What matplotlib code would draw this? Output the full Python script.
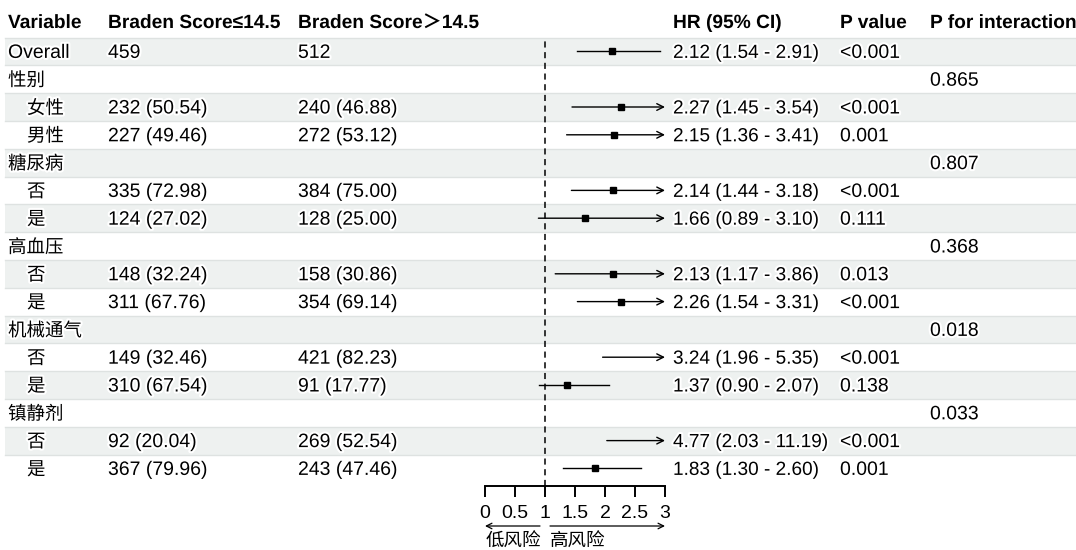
import matplotlib
matplotlib.use("Agg")
import matplotlib.pyplot as plt
import matplotlib.patheffects as pe
import numpy as np

# ---------------- data ----------------
headers = ["Variable", "Braden Score≤14.5", "Braden Score＞14.5", "HR (95% CI)", "P value", "P for interaction"]
labels = ["Overall", "性别", "女性", "男性", "糖尿病", "否", "是", "高血压", "否", "是",
          "机械通气", "否", "是", "镇静剂", "否", "是"]
indent = [False, False, True, True, False, True, True, False, True, True,
          False, True, True, False, True, True]
group_low = ["459", "", "232 (50.54)", "227 (49.46)", "", "335 (72.98)", "124 (27.02)", "",
             "148 (32.24)", "311 (67.76)", "", "149 (32.46)", "310 (67.54)", "", "92 (20.04)", "367 (79.96)"]
group_high = ["512", "", "240 (46.88)", "272 (53.12)", "", "384 (75.00)", "128 (25.00)", "",
              "158 (30.86)", "354 (69.14)", "", "421 (82.23)", "91 (17.77)", "", "269 (52.54)", "243 (47.46)"]
hr = [2.12, None, 2.27, 2.15, None, 2.14, 1.66, None, 2.13, 2.26, None, 3.24, 1.37, None, 4.77, 1.83]
lo = [1.54, None, 1.45, 1.36, None, 1.44, 0.89, None, 1.17, 1.54, None, 1.96, 0.90, None, 2.03, 1.30]
hi = [2.91, None, 3.54, 3.41, None, 3.18, 3.10, None, 3.86, 3.31, None, 5.35, 2.07, None, 11.19, 2.60]
pval = ["<0.001", "", "<0.001", "0.001", "", "<0.001", "0.111", "", "0.013", "<0.001", "",
        "<0.001", "0.138", "", "<0.001", "0.001"]
pint = ["", "0.865", "", "", "0.807", "", "", "0.368", "", "", "0.018", "", "", "0.033", "", ""]
xticks = [0, 0.5, 1, 1.5, 2, 2.5, 3]
xticklabels = ["0", "0.5", "1", "1.5", "2", "2.5", "3"]

# ---------------- layout ----------------
W, H = 1076, 550
fig = plt.figure(figsize=(W / 100, H / 100), dpi=100)
fam = ["Liberation Sans", "Noto Sans CJK SC", "DejaVu Sans"]
FS = 14.0
FS_CJK = 13.3
halo = [pe.withStroke(linewidth=3, foreground="white")]

tab = fig.add_axes([0, 0, 1, 1])
tab.set_xlim(0, W)
tab.set_ylim(H, 0)
tab.axis("off")

n = len(labels)
top = 37.5
rh = 27.8
col_x = [8, 108, 298, 673, 840, 930]
dy = 2.0  # visual centring of text inside its row

def row_y(i):
    return top + (i + 0.5) * rh

for i in range(n):
    if i % 2 == 0:
        tab.add_patch(plt.Rectangle((5, top + i * rh), W - 5, rh, facecolor="#EEF1F0",
                                    edgecolor="none", zorder=0))
        for yy in (top + i * rh, top + (i + 1) * rh):
            tab.plot([5, W], [yy, yy], color="#DEE2E1", lw=1.0, zorder=0.5)

def txt(x, y, s, bold=False, size=FS):
    tab.text(x, y, s, ha="left", va="center", fontsize=size, family=fam,
             fontweight="bold" if bold else "normal", path_effects=halo, zorder=3)

for x, h in zip(col_x, headers):
    txt(x, 22 + dy - 0.5, h, bold=True, size=FS - 0.2)

for i in range(n):
    y = row_y(i) + dy
    if i == 0:
        txt(col_x[0], y, labels[i])
    else:
        txt(col_x[0] + (19 if indent[i] else 0), y, labels[i], size=FS_CJK)
    txt(col_x[1], y, group_low[i])
    txt(col_x[2], y, group_high[i])
    if hr[i] is not None:
        txt(col_x[3], y, f"{hr[i]:.2f} ({lo[i]:.2f} - {hi[i]:.2f})", size=FS - 0.3)
    txt(col_x[4], y, pval[i])
    txt(col_x[5], y, pint[i])

# forest axes
x0, x1 = 485, 665
axis_y = 486
ax = fig.add_axes([x0 / W, 1 - axis_y / H, (x1 - x0) / W, (axis_y - top) / H])
ax.patch.set_alpha(0)
xmin, xmax = 0, 3
ax.set_xlim(xmin, xmax)
ax.set_ylim(n - 0.5 + (axis_y - top - n * rh) / rh, -0.5)
for s in ["top", "right", "left"]:
    ax.spines[s].set_visible(False)
ax.spines["bottom"].set_linewidth(1.4)
ax.set_yticks([])
ax.set_xticks(xticks)
ax.set_xticklabels(xticklabels, fontsize=FS, family=fam)
ax.tick_params(axis="x", length=8, width=1.4, pad=6, direction="out")
ax.axvline(1, color="black", lw=1.1, ls=(0, (4, 3)), zorder=1)

for i in range(n):
    if hr[i] is None:
        continue
    l = max(lo[i], xmin)
    r = min(hi[i], xmax)
    if hi[i] > xmax:
        ax.annotate("", xy=(xmax, i), xytext=(l, i),
                    arrowprops=dict(arrowstyle="->", lw=1.0, color="black",
                                    shrinkA=0, shrinkB=0, mutation_scale=12))
    else:
        ax.plot([l, r], [i, i], color="black", lw=1.0)
    if xmin <= hr[i] <= xmax:
        ax.plot(hr[i], i, marker="s", color="black", ms=4.6, zorder=3)

# risk arrows below axis
ay = 526
tab.annotate("", xy=(485, ay), xytext=(540, ay),
             arrowprops=dict(arrowstyle="->", lw=0.9, color="black", shrinkA=0, shrinkB=0, mutation_scale=10))
tab.annotate("", xy=(665, ay), xytext=(550, ay),
             arrowprops=dict(arrowstyle="->", lw=0.9, color="black", shrinkA=0, shrinkB=0, mutation_scale=10))
tab.text(513, 542, "低风险", ha="center", va="center", fontsize=FS_CJK, family=fam)
tab.text(578, 542, "高风险", ha="center", va="center", fontsize=FS_CJK, family=fam)

fig.savefig("out.png", dpi=100, facecolor="white")
